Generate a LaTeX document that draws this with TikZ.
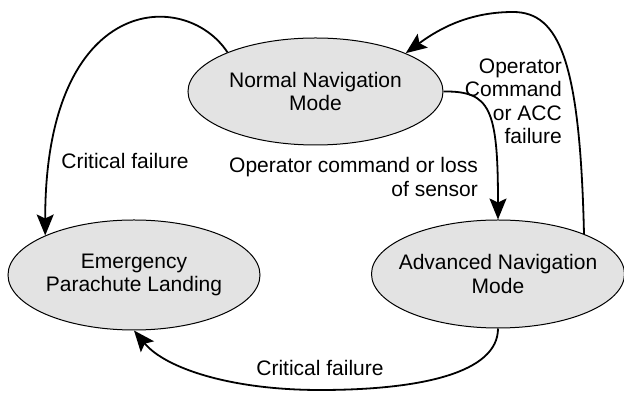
\documentclass[tikz,border=0pt]{standalone}
\usepackage{fontspec}
\setmainfont{Liberation Sans}
\usetikzlibrary{arrows.meta,shapes.geometric}
\definecolor{ellfill}{RGB}{227,227,227}
\tikzset{
  state/.style={ellipse, draw=black, line width=1pt, fill=ellfill, inner xsep=-30pt, inner ysep=0pt, align=center,
    font=\fontsize{21pt}{23.5pt}\selectfont},
  lbl/.style={inner sep=0pt, font=\fontsize{21pt}{23.5pt}\selectfont},
  arr/.style={line width=1.8pt, -{Stealth[length=21pt,width=17pt,inset=4pt]}}
}
\begin{document}
\begin{tikzpicture}[x=1pt,y=1pt]
\useasboundingbox (0,0) rectangle (624,393);
\node[state, minimum width=255pt, minimum height=107pt] (normal) at (315.5,301.5) {Normal Navigation\\Mode};
\node[state, minimum width=252pt, minimum height=110pt] (emerg) at (134,118) {Emergency\\Parachute Landing};
\node[state, minimum width=253pt, minimum height=108pt] (adv) at (498,119) {Advanced Navigation\\Mode};

\draw[arr] (normal.156) .. controls (185,405) and (45,400) .. (emerg.156);
\draw[arr] (normal.east) .. controls (490,302) and (498,285) .. (adv.north);
\draw[arr] (adv.25) .. controls (580,330) and (560,381) .. (513,381) .. controls (470,381) and (440,365) .. (normal.23);
\draw[arr] (adv.south) .. controls (498,20) and (420,3) .. (320,3) .. controls (230,3) and (165,25) .. (emerg.south);

\node[lbl] (cf1) at (125,232) {Critical failure};
\node[lbl, anchor=east, align=right] (oc) at (478,216) {Operator command or loss\\of sensor};
\node[lbl, anchor=east, align=right] (oca) at (562,291.5) {Operator\\Command\\or ACC\\failure};
\node[lbl] (cf2) at (320,25) {Critical failure};
\end{tikzpicture}
\end{document}
